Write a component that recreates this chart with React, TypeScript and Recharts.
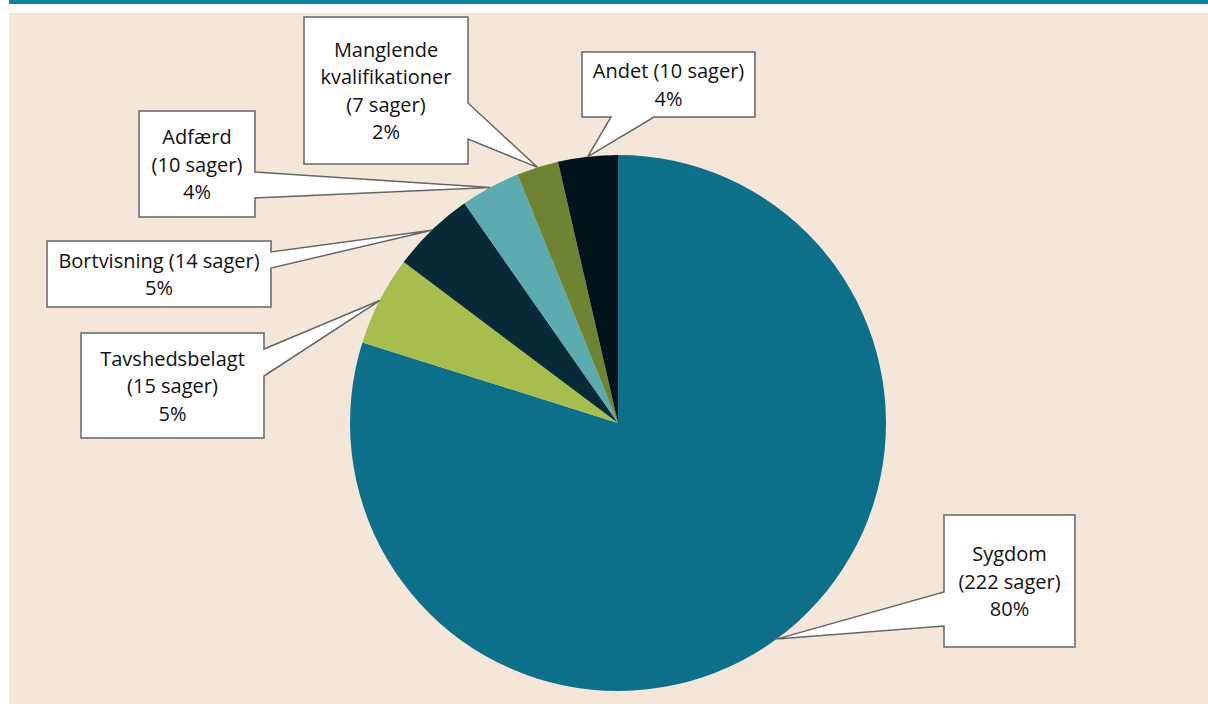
import React from 'react';
import { PieChart, Pie, Cell } from 'recharts';

const categories = ['Sygdom', 'Tavshedsbelagt', 'Bortvisning', 'Adfærd', 'Manglende kvalifikationer', 'Andet'];
const cases = [222, 15, 14, 10, 7, 10];
const pctLabels = ['80%', '5%', '5%', '4%', '2%', '4%'];
const colors = ['#0d6f8a', '#a7bd4e', '#072b36', '#5cabaf', '#6e8434', '#02141b'];

// callout box placement, relative to pie centre
const boxes = [
  { dx: 326, dy: 92, w: 131, h: 132, side: 'left', b1: 77, b2: 111, split: false, inline: false },
  { dx: -537, dy: -90, w: 183, h: 105, side: 'right', b1: 16, b2: 43, split: false, inline: false },
  { dx: -571, dy: -182, w: 224, h: 66, side: 'right', b1: 11, b2: 27, split: false, inline: true },
  { dx: -479, dy: -312, w: 116, h: 106, side: 'right', b1: 61, b2: 87, split: false, inline: false },
  { dx: -314, dy: -406, w: 164, h: 147, side: 'right', b1: 86, b2: 122, split: true, inline: false },
  { dx: -36, dy: -371, w: 173, h: 65, side: 'bottom', b1: 29, b2: 72, split: false, inline: true },
];

const data = categories.map((name, i) => ({ name, value: cases[i] }));

const RAD = Math.PI / 180;

const Callout = (props: any) => {
  const { cx, cy, midAngle, outerRadius, index } = props;
  const b = boxes[index];
  const tx = cx + outerRadius * Math.cos(-midAngle * RAD);
  const ty = cy + outerRadius * Math.sin(-midAngle * RAD);
  const x = cx + b.dx;
  const y = cy + b.dy;
  const { w, h } = b;
  let pts: number[][];
  if (b.side === 'right') {
    pts = [[x, y], [x + w, y], [x + w, y + b.b1], [tx, ty], [x + w, y + b.b2], [x + w, y + h], [x, y + h]];
  } else if (b.side === 'left') {
    pts = [[x, y], [x + w, y], [x + w, y + h], [x, y + h], [x, y + b.b2], [tx, ty], [x, y + b.b1]];
  } else {
    pts = [[x, y], [x + w, y], [x + w, y + h], [x + b.b2, y + h], [tx, ty], [x + b.b1, y + h], [x, y + h]];
  }
  const name = categories[index];
  const nameLines = b.split ? name.split(' ') : [name];
  const count = `(${cases[index]} sager)`;
  let lines: string[];
  if (b.inline) {
    lines = [...nameLines.slice(0, -1), `${nameLines[nameLines.length - 1]} ${count}`, pctLabels[index]];
  } else {
    lines = [...nameLines, count, pctLabels[index]];
  }
  const lh = 27.5;
  const startY = y + h / 2 - ((lines.length - 1) * lh) / 2;
  return (
    <g>
      <polygon
        points={pts.map((p) => p.join(',')).join(' ')}
        fill="#ffffff"
        stroke="#666666"
        strokeWidth={1.5}
        strokeLinejoin="miter"
      />
      {lines.map((t, i) => (
        <text
          key={i}
          x={x + w / 2}
          y={startY + i * lh}
          textAnchor="middle"
          dominantBaseline="central"
          fontFamily="'Open Sans', sans-serif"
          fontSize={20}
          fill="#111111"
        >
          {t}
        </text>
      ))}
    </g>
  );
};

export default function App() {
  return (
    <div style={{ position: 'absolute', left: 0, top: 0, width: 1208, height: 704, overflow: 'hidden', background: '#ffffff' }}>
      <div style={{ position: 'absolute', left: 9, top: 0, width: 1199, height: 4, background: '#0e80a0' }} />
      <div style={{ position: 'absolute', left: 9, top: 13, width: 1199, height: 691, background: '#f4e7da' }} />
      <div style={{ position: 'absolute', left: 0, top: 0 }}>
        <PieChart width={1208} height={704} margin={{ top: 0, right: 0, bottom: 0, left: 0 }}>
          <Pie
            data={data}
            dataKey="value"
            nameKey="name"
            cx={618}
            cy={423}
            outerRadius={268}
            startAngle={90}
            endAngle={-270}
            stroke="none"
            label={Callout}
            labelLine={false}
            isAnimationActive={false}
          >
            {data.map((d, i) => (
              <Cell key={d.name} fill={colors[i]} />
            ))}
          </Pie>
        </PieChart>
      </div>
    </div>
  );
}
